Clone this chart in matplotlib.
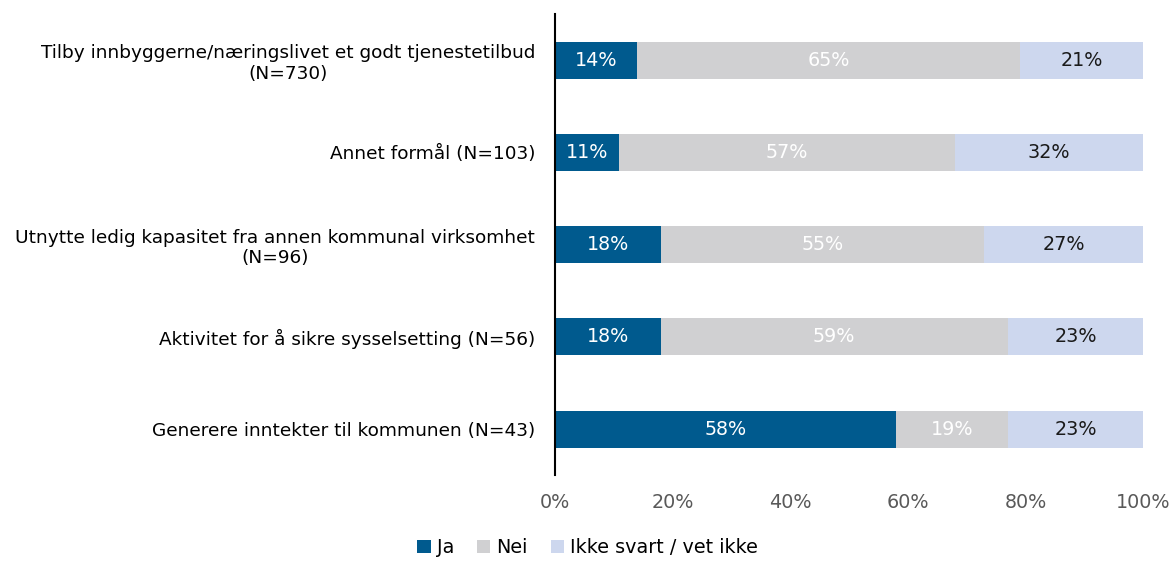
import matplotlib.pyplot as plt
import numpy as np

# Data (shares in %)
categories = [
    'Tilby innbyggerne/næringslivet et godt tjenestetilbud\n(N=730)',
    'Annet formål (N=103)',
    'Utnytte ledig kapasitet fra annen kommunal virksomhet\n(N=96)',
    'Aktivitet for å sikre sysselsetting (N=56)',
    'Generere inntekter til kommunen (N=43)',
]
ja = [14, 11, 18, 18, 58]
nei = [65, 57, 55, 59, 19]
ikke = [21, 32, 27, 23, 23]
series_names = ['Ja', 'Nei', 'Ikke svart / vet ikke']

colors = ['#005A8E', '#D0D0D2', '#CDD7EE']
text_colors = ['white', 'white', '#1a1a1a']

plt.rcParams['font.family'] = ['DejaVu Sans']
fs = 13.8

fig = plt.figure(figsize=(11.75, 5.63), dpi=100)
ax = fig.add_axes([0.472, 0.156, 0.501, 0.819])

y = np.arange(len(categories))
left = np.zeros(len(categories))
for vals, name, col, tcol in zip([ja, nei, ikke], series_names, colors, text_colors):
    vals = np.array(vals, dtype=float)
    ax.barh(y, vals, left=left, height=0.4, color=col, label=name)
    for yi, l, v in zip(y, left, vals):
        ax.text(l + v / 2, yi, f'{int(v)}%', ha='center', va='center',
                color=tcol, fontsize=fs)
    left += vals

ax.set_ylim(len(categories) - 0.5, -0.5)
ax.set_xlim(0, 100)
ax.set_yticks(y)
ax.set_yticklabels(categories, fontsize=13.3, ha='right', multialignment='center')
ax.set_xticks(np.arange(0, 101, 20))
ax.set_xticklabels([f'{t}%' for t in range(0, 101, 20)], fontsize=fs, color='#595959')
ax.tick_params(axis='both', length=0)
ax.tick_params(axis='x', pad=13)
ax.tick_params(axis='y', pad=14)
for s in ['top', 'right', 'bottom']:
    ax.spines[s].set_visible(False)
ax.spines['left'].set_color('black')
ax.spines['left'].set_linewidth(1.5)

fig.legend(loc='lower center', bbox_to_anchor=(0.5, -0.02), ncol=3, frameon=False,
           fontsize=fs, handlelength=0.7, handleheight=0.7, handletextpad=0.3,
           columnspacing=1.2)

fig.savefig('out.png', dpi=100)
